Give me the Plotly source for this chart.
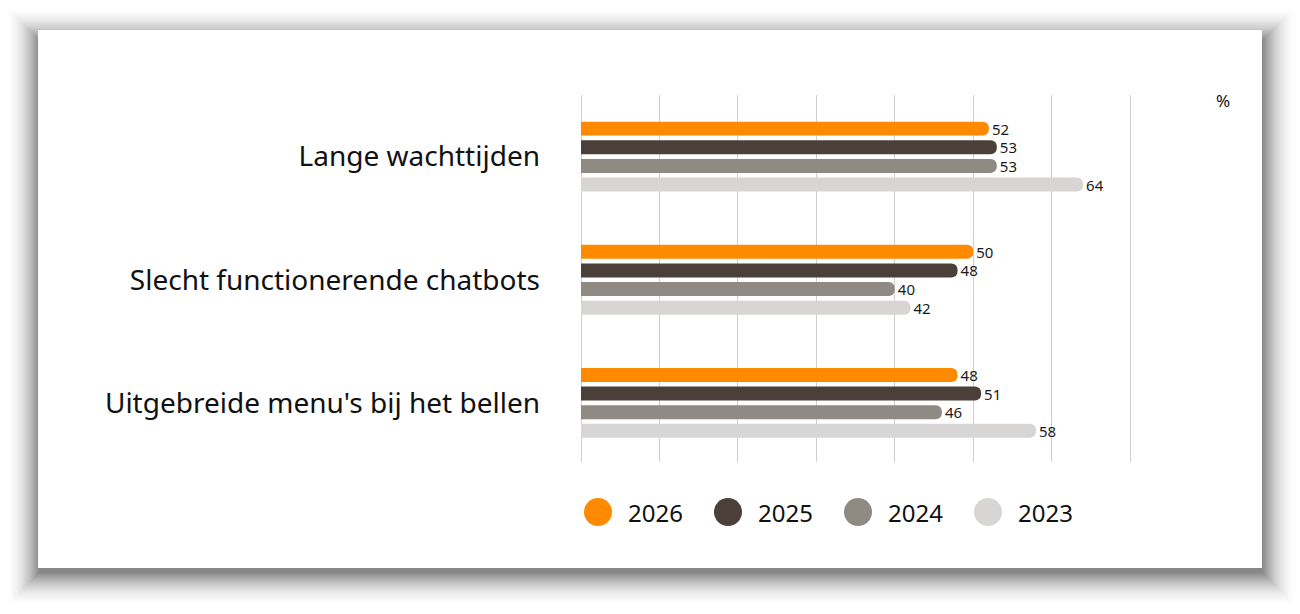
import plotly.graph_objects as go

categories = ["Lange wachttijden", "Slecht functionerende chatbots", "Uitgebreide menu's bij het bellen"]
series_names = ["2026", "2025", "2024", "2023"]
values_2026 = [52, 50, 48]
values_2025 = [53, 48, 51]
values_2024 = [53, 40, 46]
values_2023 = [64, 42, 58]
series_values = [values_2026, values_2025, values_2024, values_2023]
colors = ["#FF8A00", "#4A4039", "#908A85", "#D8D6D5"]

W, H = 1300, 614
FONT = "Noto Sans"

def px(x):
    return x / W

def py(y):
    return 1 - y / H

fig = go.Figure()
for name, vals, col in zip(series_names, series_values, colors):
    fig.add_trace(go.Bar(
        y=categories, x=vals, name=name, orientation="h",
        marker=dict(color=col, cornerradius=7, line=dict(width=0)),
        text=[str(v) for v in vals], textposition="outside", constraintext="none",
        textfont=dict(size=15, color="#1a1a1a", family=FONT),
        cliponaxis=False, showlegend=False, hoverinfo="skip",
    ))

shapes = []
# soft card shadow: opaque concentric rects, light outside -> darker inside
cx0, cy0, cx1, cy1 = 38, 30, 1262, 568
D = 34
dark = 135
for d in range(D, -1, -1):
    t = (1 - d / D) ** 1.9
    g = int(round(255 - (255 - dark) * t))
    col = f"rgb({g},{g},{g})"
    shapes.append(dict(type="rect", xref="paper", yref="paper",
                       x0=px(cx0 - d + 1), x1=px(cx1 + d + 1),
                       y0=py(cy1 + d + 5), y1=py(cy0 - d + 10),
                       fillcolor=col, line=dict(width=0), layer="below"))
shapes.append(dict(type="rect", xref="paper", yref="paper",
                   x0=px(cx0), x1=px(cx1), y0=py(cy1), y1=py(cy0),
                   fillcolor="white", line=dict(width=0), layer="below"))

annotations = []
# manual legend
leg_start, leg_step, leg_y, r = 598, 130, 512, 14
for i, (name, col) in enumerate(zip(series_names, colors)):
    c = leg_start + i * leg_step
    shapes.append(dict(type="circle", xref="paper", yref="paper",
                       x0=px(c - r), x1=px(c + r), y0=py(leg_y + r), y1=py(leg_y - r),
                       fillcolor=col, line=dict(width=0)))
    annotations.append(dict(x=px(c + 28), y=py(leg_y), xref="paper", yref="paper",
                            text=name, showarrow=False, xanchor="left", yanchor="middle",
                            font=dict(size=24, color="#111111", family=FONT)))

annotations.append(dict(x=px(1214), y=py(101), xref="paper", yref="paper", text="%",
                        showarrow=False, xanchor="left", yanchor="middle",
                        font=dict(size=17, color="#111111", family=FONT)))

fig.update_layout(
    width=W, height=H, margin=dict(l=0, r=0, t=0, b=0),
    paper_bgcolor="white", plot_bgcolor="rgba(0,0,0,0)",
    barmode="group", bargap=0.395, bargroupgap=0.25,
    shapes=shapes, annotations=annotations, showlegend=False,
    font=dict(family=FONT),
    xaxis=dict(domain=[px(581), px(1209)], range=[0, 80.05], dtick=10,
               showgrid=True, gridcolor="#CFCFCF", gridwidth=1,
               zeroline=True, zerolinecolor="#CFCFCF", zerolinewidth=1,
               showticklabels=False, showline=False, ticks=""),
    yaxis=dict(domain=[py(462), py(95)], range=[2.48, -0.5],
               showgrid=False, zeroline=False, showline=False, ticks="",
               ticklabelstandoff=40,
               tickfont=dict(size=28, color="#111111", family=FONT)),
)

fig.write_html("out.html", config={"displayModeBar": False},
               post_script="document.body.style.margin='0';")
